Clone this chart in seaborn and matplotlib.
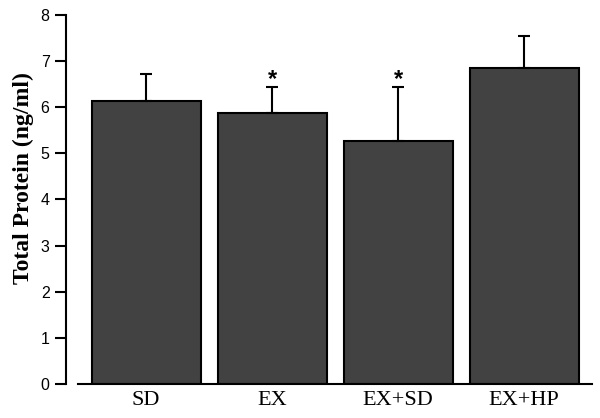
import pandas as pd
import matplotlib
matplotlib.use("Agg")
import matplotlib.pyplot as plt
import seaborn as sns

groups = ["SD", "EX", "EX+SD", "EX+HP"]
means = [6.14, 5.88, 5.27, 6.85]
errors = [0.58, 0.55, 1.17, 0.70]
starred = [False, True, True, False]

sns.set_style("ticks", {"text.color": "black", "axes.labelcolor": "black",
                        "xtick.color": "black", "ytick.color": "black",
                        "axes.edgecolor": "black"})

df = pd.DataFrame({"group": groups, "mean": means})

fig = plt.figure(figsize=(6.0, 4.18), dpi=100)
ax = fig.add_axes([0.13, 0.0813, 0.857, 0.883])

sns.barplot(data=df, x="group", y="mean", color="#424242", edgecolor="black",
            linewidth=1.5, width=0.865, saturation=1, errorbar=None, ax=ax)
ax.errorbar(range(len(groups)), means, yerr=[[0] * len(groups), errors],
            fmt="none", ecolor="black", elinewidth=1.5, capsize=4, capthick=1.5)

for i, (m, e, s) in enumerate(zip(means, errors, starred)):
    if s:
        ax.text(i, m + e + 0.02, "*", ha="center", va="baseline", color="black",
                fontsize=17, fontweight="bold", family="Liberation Sans")

ax.set_xlim(-0.54, 3.54)
ax.set_ylim(0, 8)
ax.set_yticks(range(0, 9))
ax.set_xlabel("")
ax.set_ylabel("Total Protein (ng/ml)", fontsize=17, fontweight="bold",
              family="Liberation Serif")
ax.yaxis.set_label_coords(-0.085, 0.557)

sns.despine(ax=ax)
ax.spines["left"].set_position(("outward", 9))
ax.spines["left"].set_linewidth(1.5)
ax.spines["bottom"].set_linewidth(1.5)
ax.tick_params(axis="y", length=8, width=1.5, labelsize=11.5)
ax.tick_params(axis="x", length=0, labelsize=16, pad=5)
for lab in ax.get_yticklabels():
    lab.set_family("Liberation Sans")
for lab in ax.get_xticklabels():
    lab.set_family("Liberation Serif")

fig.savefig("out.png", dpi=100)
